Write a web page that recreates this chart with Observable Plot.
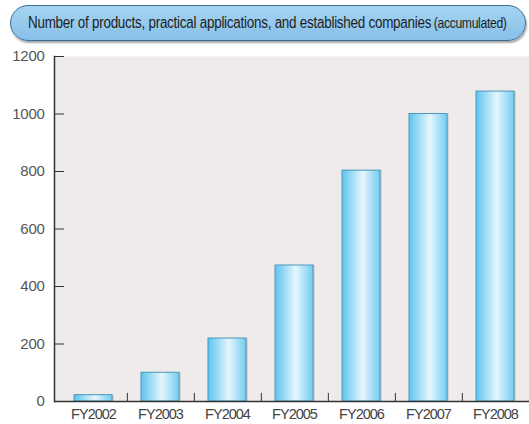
<!DOCTYPE html>
<html><head><meta charset="utf-8">
<script src="https://cdn.jsdelivr.net/npm/d3@7"></script>
<script src="https://cdn.jsdelivr.net/npm/@observablehq/plot@0.6"></script>
<style>
body{margin:0;background:#fff;font-family:"Liberation Sans",sans-serif;}
#title{position:relative;height:46px;}
#pill{position:absolute;left:10px;top:5px;width:516px;height:36px;border-radius:18px;background:linear-gradient(#a6d4f2,#87c0e9);border:1px solid #3d6e94;box-shadow:1px 2px 2px rgba(0,0,0,0.35);box-sizing:border-box;overflow:hidden;}
#pill .txt{position:absolute;left:17px;top:8px;white-space:nowrap;color:#1e1e1e;font-size:16px;letter-spacing:-0.3px;transform:scaleX(0.84);transform-origin:0 0;}
#pill small{font-size:14.5px;margin-left:3px;letter-spacing:-0.4px}
#chart{display:block}
#chart svg g[aria-label="x-axis tick label"] text{letter-spacing:-1px}
#chart svg g[aria-label="y-axis tick label"] text{letter-spacing:-0.3px}
</style></head><body>
<svg width="0" height="0" style="position:absolute"><defs>
<linearGradient id="barGrad" x1="0" x2="1" y1="0" y2="0">
<stop offset="0%" stop-color="#5ec4ee"/>
<stop offset="55%" stop-color="#e6f6fe"/>
<stop offset="100%" stop-color="#72ccf0"/>
</linearGradient></defs></svg>
<div id="title"><div id="pill"><div class="txt">Number of products, practical applications, and established companies<small>(accumulated)</small></div></div></div>
<div id="chart"></div>
<script>
const years = ["FY2002","FY2003","FY2004","FY2005","FY2006","FY2007","FY2008"];
const values = [22, 100, 219, 473, 803, 1000, 1078];
const yTicks = [0, 200, 400, 600, 800, 1000, 1200];

const data = years.map((year, i) => ({year, value: values[i]}));
const xRange = [57, 531];
const step = (xRange[1] - xRange[0]) / years.length;

const chart = Plot.plot({
  width: 529, height: 378,
  marginLeft: 54, marginRight: 0, marginTop: 10, marginBottom: 23,
  style: {fontFamily: '"Liberation Sans",sans-serif', fontSize: "14px", color: "#555", background: "transparent", overflow: "visible"},
  x: {domain: years, range: xRange, paddingInner: 0.44, paddingOuter: 0.22, label: null},
  y: {domain: [0, 1200], label: null},
  marks: [
    Plot.frame({fill: "#efebea", stroke: null}),
    Plot.barY(data, {x: "year", y: "value", fill: "#000", fillOpacity: 0.18, dx: 1.5, dy: 0}),
    Plot.barY(data, {x: "year", y: "value", fill: "url(#barGrad)", stroke: "#4a98bb", strokeWidth: 1}),
    Plot.ruleX(years.slice(0, -1), {x: d => d, y1: 0, y2: 28, dx: step / 2, stroke: "#333"}),
    Plot.ruleY([0], {stroke: "#333", strokeWidth: 1.5}),
    Plot.frame({anchor: "left", stroke: "#333", strokeWidth: 1.5}),
    Plot.axisY(yTicks, {tickSize: 10, insetLeft: 10, tickPadding: 10, tickFormat: "d", stroke: "#333", fill: "#555", fontSize: 15}),
    Plot.axisX({tickSize: 0, tickPadding: 7, fontSize: 14.5, fill: "#444"})
  ]
});
document.getElementById("chart").append(chart);
</script>
</body></html>
